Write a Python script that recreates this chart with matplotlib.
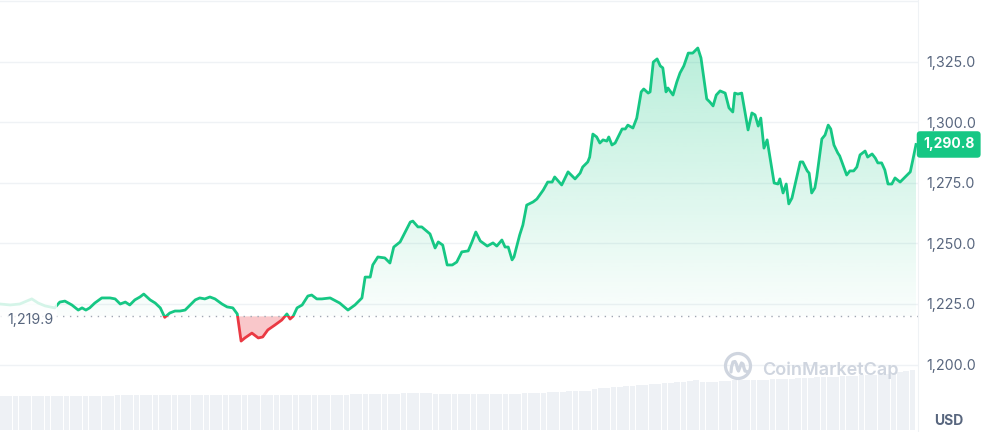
import matplotlib
matplotlib.use("Agg")
from matplotlib import pyplot as plt
from matplotlib.patches import Rectangle, Circle
from matplotlib.lines import Line2D
from matplotlib.path import Path
from matplotlib.colors import LinearSegmentedColormap, to_rgb
from matplotlib.transforms import IdentityTransform
import numpy as np

plt.rcParams["font.family"] = ["Inter", "DejaVu Sans"]

GREEN = "#16c784"
RED = "#ea3943"
GREY = "#58667e"
GRID = "#eff2f5"

base = 1219.9   # opening price (dotted line)
last = 1290.8
yticks = [1200, 1225, 1250, 1275, 1300, 1325]

# minutes since start of the day
minutes = [
    0, 16, 31, 50, 60, 71, 86, 94, 102, 113, 123, 129, 135, 141, 149, 160, 173, 181, 189, 197,
    204, 212, 220, 226, 236, 244, 252, 259, 267, 275, 283, 291, 299, 307, 314, 322, 330, 338, 349, 357,
    366, 373, 379, 385, 396, 406, 413, 421, 432, 443, 451, 456, 461, 467, 475, 484, 490, 498, 506, 519,
    534, 547, 558, 569, 574, 582, 586, 594, 605, 613, 619, 629, 645, 649, 657, 663, 676, 684, 689, 696,
    703, 711, 718, 726, 736, 742, 748, 755, 766, 775, 781, 789, 794, 799, 805, 808, 817, 822, 828, 838,
    844, 854, 861, 868, 872, 883, 893, 904, 912, 916, 924, 927, 932, 938, 943, 948, 954, 957, 962, 967,
    978, 983, 987, 995, 1001, 1008, 1012, 1019, 1022, 1027, 1033, 1038, 1042, 1047, 1050, 1058, 1064, 1069, 1075, 1082,
    1089, 1097, 1102, 1111, 1116, 1121, 1126, 1132, 1140, 1146, 1152, 1155, 1160, 1166, 1176, 1182, 1187, 1192, 1196, 1201,
    1206, 1217, 1223, 1226, 1231, 1236, 1240, 1245, 1258, 1262, 1269, 1272, 1276, 1281, 1284, 1292, 1297, 1302, 1306, 1311,
    1317, 1320, 1331, 1336, 1342, 1347, 1352, 1360, 1364, 1371, 1376, 1380, 1386, 1391, 1396, 1402, 1407, 1415, 1423, 1431,
    1435, 1440,
]
price = [
    1225.0, 1224.6, 1225.0, 1227.1, 1225.4, 1224.2, 1223.4, 1225.8, 1226.2, 1224.6, 1222.5, 1223.4, 1222.5, 1223.4, 1225.4, 1227.5, 1227.5, 1227.1, 1225.0, 1225.8,
    1224.6, 1226.7, 1227.9, 1229.1, 1226.7, 1225.4, 1223.4, 1219.5, 1221.3, 1222.1, 1222.1, 1222.5, 1224.6, 1226.7, 1227.5, 1227.1, 1227.9, 1227.1, 1225.0, 1223.8,
    1223.4, 1220.9, 1209.7, 1211.0, 1213.0, 1211.0, 1211.4, 1214.3, 1216.3, 1218.4, 1220.9, 1218.8, 1220.0, 1223.4, 1224.6, 1228.3, 1228.7, 1227.1, 1227.1, 1227.5,
    1225.4, 1222.5, 1224.6, 1227.5, 1236.1, 1236.1, 1241.1, 1244.4, 1244.0, 1241.9, 1248.5, 1250.6, 1258.8, 1259.2, 1256.8, 1256.8, 1253.9, 1248.1, 1250.6, 1249.3,
    1241.1, 1241.1, 1242.3, 1246.5, 1246.9, 1250.6, 1254.7, 1251.0, 1248.9, 1250.2, 1248.9, 1251.4, 1248.5, 1248.5, 1243.2, 1244.4, 1253.5, 1257.6, 1265.8, 1267.1,
    1268.3, 1272.0, 1275.3, 1275.3, 1277.4, 1274.1, 1279.5, 1276.6, 1279.0, 1281.5, 1283.6, 1285.6, 1295.1, 1293.9, 1291.4, 1292.7, 1292.2, 1293.9, 1290.6, 1291.4,
    1297.2, 1297.2, 1298.8, 1297.6, 1301.7, 1312.5, 1313.7, 1312.0, 1312.5, 1324.8, 1326.1, 1323.2, 1322.4, 1312.5, 1314.1, 1311.2, 1316.6, 1320.3, 1323.2, 1328.5,
    1328.5, 1330.6, 1326.5, 1309.6, 1308.3, 1306.7, 1311.2, 1312.9, 1312.0, 1305.9, 1304.2, 1312.0, 1311.6, 1312.0, 1296.8, 1303.8, 1303.0, 1298.4, 1301.7, 1289.3,
    1292.7, 1274.9, 1274.5, 1276.6, 1270.8, 1274.5, 1266.3, 1268.7, 1283.6, 1283.6, 1279.9, 1279.0, 1270.8, 1272.9, 1277.4, 1293.1, 1294.7, 1298.8, 1297.2, 1290.6,
    1287.3, 1286.1, 1278.2, 1279.9, 1279.9, 1281.5, 1286.5, 1288.1, 1285.6, 1286.9, 1285.2, 1283.2, 1283.2, 1280.3, 1274.5, 1274.5, 1277.0, 1275.3, 1277.4, 1279.5,
    1284.4, 1290.8,
]
# 10-minute volume bars (billions USD)
volume = [
    3.4, 3.4, 3.4, 3.4, 3.4, 3.4, 3.4, 3.4, 3.4, 3.4, 3.4, 3.4, 3.4, 3.4, 3.4, 3.4, 3.4, 3.4,
    3.5, 3.5, 3.5, 3.5, 3.5, 3.5, 3.5, 3.5, 3.5, 3.5, 3.5, 3.5, 3.5, 3.5, 3.5, 3.5, 3.5, 3.5, 3.5,
    3.5, 3.5, 3.5, 3.5, 3.5, 3.5, 3.5, 3.5, 3.5, 3.5, 3.5, 3.5, 3.5, 3.5, 3.5, 3.5, 3.5, 3.5,
    3.6, 3.6, 3.6, 3.6, 3.6, 3.6, 3.6, 3.6, 3.7, 3.7, 3.7, 3.7, 3.7,
    3.6, 3.6, 3.6, 3.6, 3.6, 3.6, 3.6, 3.6, 3.6, 3.6, 3.6, 3.6, 3.6, 3.6,
    3.7, 3.7, 3.7, 3.7, 3.8, 3.8, 3.8, 3.9, 3.9, 3.9, 3.9,
    4.1, 4.2, 4.2, 4.3, 4.3, 4.4, 4.4, 4.5, 4.5, 4.6, 4.6, 4.7, 4.7, 4.8, 4.8, 4.9, 5.0,
    4.8, 4.8, 4.8, 4.9, 4.9, 5.0, 5.0, 5.0, 5.0, 5.0,
    5.0, 5.1, 5.1, 5.1, 5.1, 5.2, 5.2, 5.2, 5.3, 5.3, 5.3,
    5.3, 5.4, 5.4, 5.4, 5.5, 5.5, 5.5, 5.6,
    5.6, 5.7, 5.8, 5.9, 6.0,
]

W, H = 981, 432
fig = plt.figure(figsize=(W / 100, H / 100), dpi=100)
plot_w = 918 / W

# volume
vax = fig.add_axes([0, 2 / H, plot_w, 100 / H])
vax.bar(np.arange(len(volume)), volume, width=0.9, align="edge", color="#eef1f5", lw=0)
vax.set_xlim(0, len(volume) * 918 / 916)
vax.set_ylim(0, 10)
vax.axis("off")

# price
ax = fig.add_axes([0, 0, plot_w, 1])
ax.patch.set_alpha(0)
t = np.array(minutes, dtype=float)
p = np.array(price)

for v in yticks + [1350]:
    ax.axhline(v, color=GRID, lw=1, zorder=0)

up = ax.fill_between(t, p, base, where=p >= base, interpolate=True, color="none", lw=0)
clip = Path.make_compound_path(*up.get_paths())
gcmap = LinearSegmentedColormap.from_list("g", [(*to_rgb(GREEN), 0.02), (*to_rgb(GREEN), 0.30)])
im = ax.imshow(np.linspace(0, 1, 256).reshape(-1, 1), extent=[0, 1440, base, p.max()],
               origin="lower", aspect="auto", cmap=gcmap, interpolation="bilinear", zorder=1)
im.set_clip_path(clip, ax.transData)

ax.fill_between(t, p, base, where=p < base, interpolate=True, color=RED, alpha=0.28, lw=0, zorder=1)

ax.axhline(base, color="#a1a7b3", lw=1, ls=(0, (1, 4)), zorder=2)

lg, = ax.plot(t, p, color=GREEN, lw=2, zorder=3, solid_joinstyle="round")
lg.set_clip_path(Rectangle((-100, base), 2000, 500, transform=ax.transData))
lr, = ax.plot(t, p, color=RED, lw=2, zorder=3, solid_joinstyle="round")
lr.set_clip_path(Rectangle((-100, base - 500), 2000, 500, transform=ax.transData))

ax.set_xlim(0, 1440 * 918 / 916)
ax.set_ylim(1172.2, 1350.4)
ax.set_xticks([])
ax.yaxis.tick_right()
ax.set_yticks(yticks)
ax.set_yticklabels([f"{v:,.1f}" for v in yticks])
ax.tick_params(axis="y", length=0, pad=6, labelsize=10.3, labelcolor=GREY)
for s in ["top", "left", "bottom"]:
    ax.spines[s].set_visible(False)
ax.spines["right"].set_color(GRID)

# opening price label with faded backing
ax.add_artist(Rectangle((0, H - 340), 57, 44, transform=IdentityTransform(),
                        fc="white", ec="none", alpha=0.82, zorder=5))
ax.annotate(f"{base:,.1f}", xy=(0, base), xytext=(7, -4), textcoords="offset pixels",
            ha="left", va="center", color=GREY, fontsize=10.3, zorder=6)

# last price tag
ax.annotate(f"{last:,.1f}", xy=(1, last), xycoords=("axes fraction", "data"),
            xytext=(5, 0), textcoords="offset pixels", ha="left", va="center",
            color="white", fontsize=10, fontweight="bold", zorder=7, annotation_clip=False,
            bbox=dict(boxstyle="round,pad=0.45,rounding_size=0.25", fc=GREEN, ec="none"))

# watermark
wm = "#cfd5df"
fig.add_artist(Circle((738, H - 366), 12.5, transform=IdentityTransform(), fill=False, ec=wm, lw=2.3))
wx = [738 + d for d in [-7, -6.5, -5, -3, -1.5, -0.5, 0.5, 2, 3.5, 5, 6, 7, 9]]
wy = [H - 366 + d for d in [-6, -1, 4, 4.5, 1.5, -3, -5, -1, 3, 2, -2, -5, -5.5]]
fig.add_artist(Line2D(wx, wy, transform=IdentityTransform(), color=wm, lw=2.3,
                      solid_capstyle="round", solid_joinstyle="round"))
fig.text(762 / W, 1 - 370 / H, "CoinMarketCap", fontsize=13, fontweight="semibold",
         color=wm, ha="left", va="center")

fig.text(949 / W, 1 - 421 / H, "USD", fontsize=10, fontweight="bold", color=GREY,
         ha="center", va="center")

fig.savefig("out.png", dpi=100)
